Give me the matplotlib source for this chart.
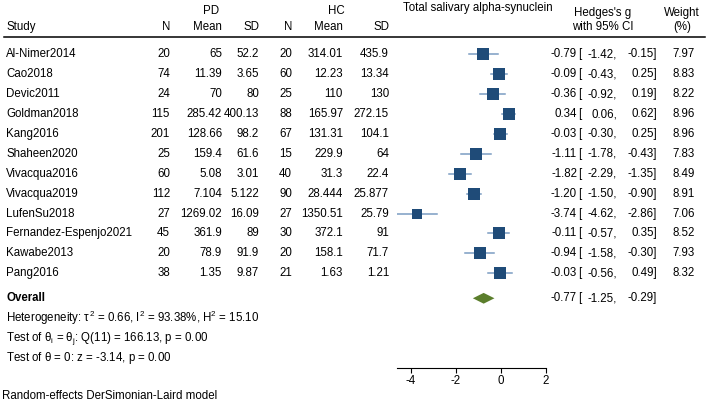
import numpy as np
import matplotlib
matplotlib.use('agg')
import matplotlib.pyplot as plt
from matplotlib.transforms import blended_transform_factory

plt.rcParams['font.family'] = ['Liberation Sans', 'DejaVu Sans']
plt.rcParams['mathtext.fontset'] = 'custom'
plt.rcParams['mathtext.rm'] = 'Liberation Sans'
plt.rcParams['mathtext.it'] = 'Liberation Sans'
plt.rcParams['axes.unicode_minus'] = False

studies = ["Al-Nimer2014", "Cao2018", "Devic2011", "Goldman2018", "Kang2016",
           "Shaheen2020", "Vivacqua2016", "Vivacqua2019", "LufenSu2018",
           "Fernandez-Espenjo2021", "Kawabe2013", "Pang2016"]
pd_n = ["20", "74", "24", "115", "201", "25", "60", "112", "27", "45", "20", "38"]
pd_mean = ["65", "11.39", "70", "285.42", "128.66", "159.4", "5.08", "7.104",
           "1269.02", "361.9", "78.9", "1.35"]
pd_sd = ["52.2", "3.65", "80", "400.13", "98.2", "61.6", "3.01", "5.122",
         "16.09", "89", "91.9", "9.87"]
hc_n = ["20", "60", "25", "88", "67", "15", "40", "90", "27", "30", "20", "21"]
hc_mean = ["314.01", "12.23", "110", "165.97", "131.31", "229.9", "31.3",
           "28.444", "1350.51", "372.1", "158.1", "1.63"]
hc_sd = ["435.9", "13.34", "130", "272.15", "104.1", "64", "22.4", "25.877",
         "25.79", "91", "71.7", "1.21"]
g = [-0.79, -0.09, -0.36, 0.34, -0.03, -1.11, -1.82, -1.20, -3.74, -0.11, -0.94, -0.03]
lo = [-1.42, -0.43, -0.92, 0.06, -0.30, -1.78, -2.29, -1.50, -4.62, -0.57, -1.58, -0.56]
hi = [-0.15, 0.25, 0.19, 0.62, 0.25, -0.43, -1.35, -0.90, -2.86, 0.35, -0.30, 0.49]
weight = [7.97, 8.83, 8.22, 8.96, 8.96, 7.83, 8.49, 8.91, 7.06, 8.52, 7.93, 8.32]
overall = (-0.77, -1.25, -0.29)

W, H = 709, 408
fig = plt.figure(figsize=(W / 100, H / 100), dpi=100)
# forest panel; y data = row index (0 = first study)
ax = fig.add_axes([397 / W, 0, 149 / W, 1])
ax.set_xlim(-4.62, 2)
ax.set_ylim(17.774, -2.729)
ax.patch.set_alpha(0)

navy = '#1f4b78'
ci_col = '#7b9cc2'
green = '#5b7e2c'
fs = 8.3

rows = np.arange(len(studies))
for r, gi, l, h, w in zip(rows, g, lo, hi, weight):
    ax.plot([l, h], [r, r], color=ci_col, lw=1.1, zorder=1)
    ax.plot(gi, r, marker='s', color=navy, ms=np.sqrt(w) * 4.1 * 0.72,
            mew=0, zorder=2)

y_ov = 12.26
ax.fill([overall[1], overall[0], overall[2], overall[0]],
        [y_ov, y_ov - 0.27, y_ov, y_ov + 0.27], color=green, lw=0)

for s in ['top', 'right', 'left']:
    ax.spines[s].set_visible(False)
ax.spines['bottom'].set_position(('data', 15.77))
ax.spines['bottom'].set_bounds(-4.62, 2)
ax.spines['bottom'].set_linewidth(0.8)
ax.set_yticks([])
ax.set_xticks([-4, -2, 0, 2])
ax.tick_params(axis='x', direction='out', length=3.5, width=0.8, labelsize=fs, pad=1.5)

tr = blended_transform_factory(fig.transFigure, ax.transData)


def put(xpix, y, s, ha='right', **kw):
    fig.text(xpix / W, y, s, transform=tr, ha=ha, va='center', fontsize=fs, **kw)


# headers
put(211, -2.18, "PD", ha='center')
put(336, -2.18, "HC", ha='center')
put(6, -1.35, "Study", ha='left')
for x, s in [(170, "N"), (222, "Mean"), (259, "SD"), (292, "N"), (343, "Mean"), (389, "SD")]:
    put(x, -1.35, s)
put(478, -2.35, "Total salivary alpha-synuclein", ha='center')
put(603, -2.1, "Hedges's g", ha='center')
put(603, -1.35, "with 95% CI", ha='center')
put(682, -2.1, "Weight", ha='center')
put(682, -1.35, "(%)", ha='center')
ax.plot([0.005, 0.995], [-0.87, -0.87], transform=tr, color='black', lw=1.1,
        clip_on=False)

for r in rows:
    put(6, r, studies[r], ha='left')
    put(170, r, pd_n[r])
    put(222, r, pd_mean[r])
    put(259, r, pd_sd[r])
    put(292, r, hc_n[r])
    put(343, r, hc_mean[r])
    put(389, r, hc_sd[r])
    put(577, r, f"{g[r]:.2f}")
    put(578, r, "[", ha='left')
    put(617, r, f"{lo[r]:.2f},")
    put(657, r, f"{hi[r]:.2f}]")
    put(695, r, f"{weight[r]:.2f}")

put(6, y_ov, "Overall", ha='left', fontweight='bold')
put(577, y_ov, f"{overall[0]:.2f}")
put(578, y_ov, "[", ha='left')
put(617, y_ov, f"{overall[1]:.2f},")
put(657, y_ov, f"{overall[2]:.2f}]")

put(6, 13.24, r"Heterogeneity: $\tau^2$ = 0.66, I$^2$ = 93.38%, H$^2$ = 15.10", ha='left')
put(6, 14.27, r"Test of $\theta_\mathrm{i}$ = $\theta_\mathrm{j}$: Q(11) = 166.13, p = 0.00", ha='left')
put(6, 15.27, r"Test of $\theta$ = 0: z = -3.14, p = 0.00", ha='left')
put(2, 17.17, "Random-effects DerSimonian-Laird model", ha='left')

fig.savefig('out.png', dpi=100)
